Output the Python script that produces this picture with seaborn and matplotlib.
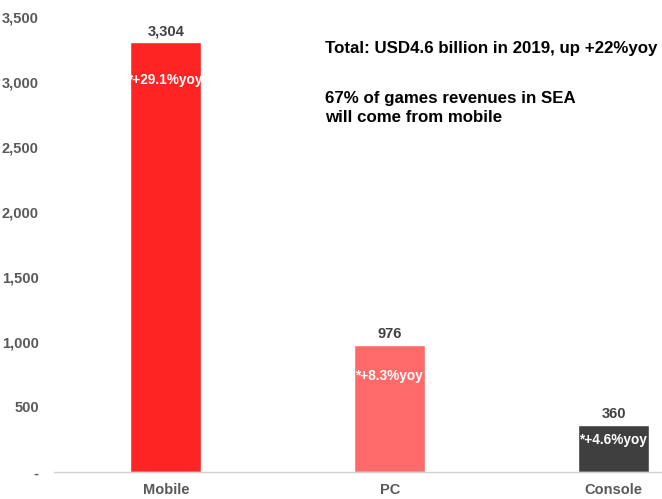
import matplotlib
matplotlib.use("Agg")
import matplotlib.pyplot as plt
import seaborn as sns
import pandas as pd

# Games revenue in Southeast Asia, 2019 (USD million)
segments = ["Mobile", "PC", "Console"]
revenue = [3304, 976, 360]
growth_labels = ["*+29.1%yoy", "*+8.3%yoy", "*+4.6%yoy"]
bar_colors = ["#FF2424", "#FF6969", "#3F3F3F"]
y_ticks = [0, 500, 1000, 1500, 2000, 2500, 3000, 3500]
y_tick_labels = ["-", "500", "1,000", "1,500", "2,000", "2,500", "3,000", "3,500"]
headline = "Total: USD4.6 billion in 2019, up +22%yoy"
note = "67% of games revenues in SEA\nwill come from mobile"

sns.set_theme(style="white")
plt.rcParams["font.family"] = ["Liberation Sans", "DejaVu Sans"]

df = pd.DataFrame({"segment": segments, "revenue": revenue})

fig = plt.figure(figsize=(6.62, 4.99), dpi=100)
ax = fig.add_axes([54 / 662, 27 / 499, 608 / 662, 455 / 499])

sns.barplot(data=df, x="segment", y="revenue", hue="segment",
            palette=bar_colors, width=0.317, legend=False, ax=ax,
            saturation=1)

ax.set_xlim(-0.5, 2.2165)
ax.set_ylim(0, 3500)
ax.set_yticks(y_ticks)
ax.set_yticklabels(y_tick_labels)
ax.set_xlabel("")
ax.set_ylabel("")

tick_color = "#595959"
ax.tick_params(axis="y", length=0, pad=11, labelsize=10.5, labelcolor=tick_color)
ax.tick_params(axis="x", length=0, pad=8, labelsize=10.5, labelcolor=tick_color)
for lbl in ax.get_yticklabels() + ax.get_xticklabels():
    lbl.set_fontweight("bold")

for side in ["left", "right", "top"]:
    ax.spines[side].set_visible(False)
ax.spines["bottom"].set_color("#D0D0D0")
ax.spines["bottom"].set_linewidth(1.0)

# value labels above bars and growth labels inside
inner_offsets = [-38, -31, -15]
for i, (val, g) in enumerate(zip(revenue, growth_labels)):
    ax.annotate(f"{val:,}", (i, val), xytext=(0, 4), textcoords="offset pixels",
                ha="center", va="bottom", fontsize=10.5, fontweight="bold",
                color="#404040")
    ax.annotate(g, (i, val), xytext=(0, inner_offsets[i]), textcoords="offset pixels",
                ha="center", va="center", fontsize=9.8, fontweight="bold",
                color="white")

fig.text(325 / 662, 1 - 49 / 499, headline, ha="left", va="center",
         fontsize=12.2, fontweight="bold", color="black")
fig.text(325 / 662, 1 - 108 / 499, note, ha="left", va="center",
         fontsize=12.2, fontweight="bold", color="black", linespacing=1.3)

fig.savefig("out.png", dpi=100)
